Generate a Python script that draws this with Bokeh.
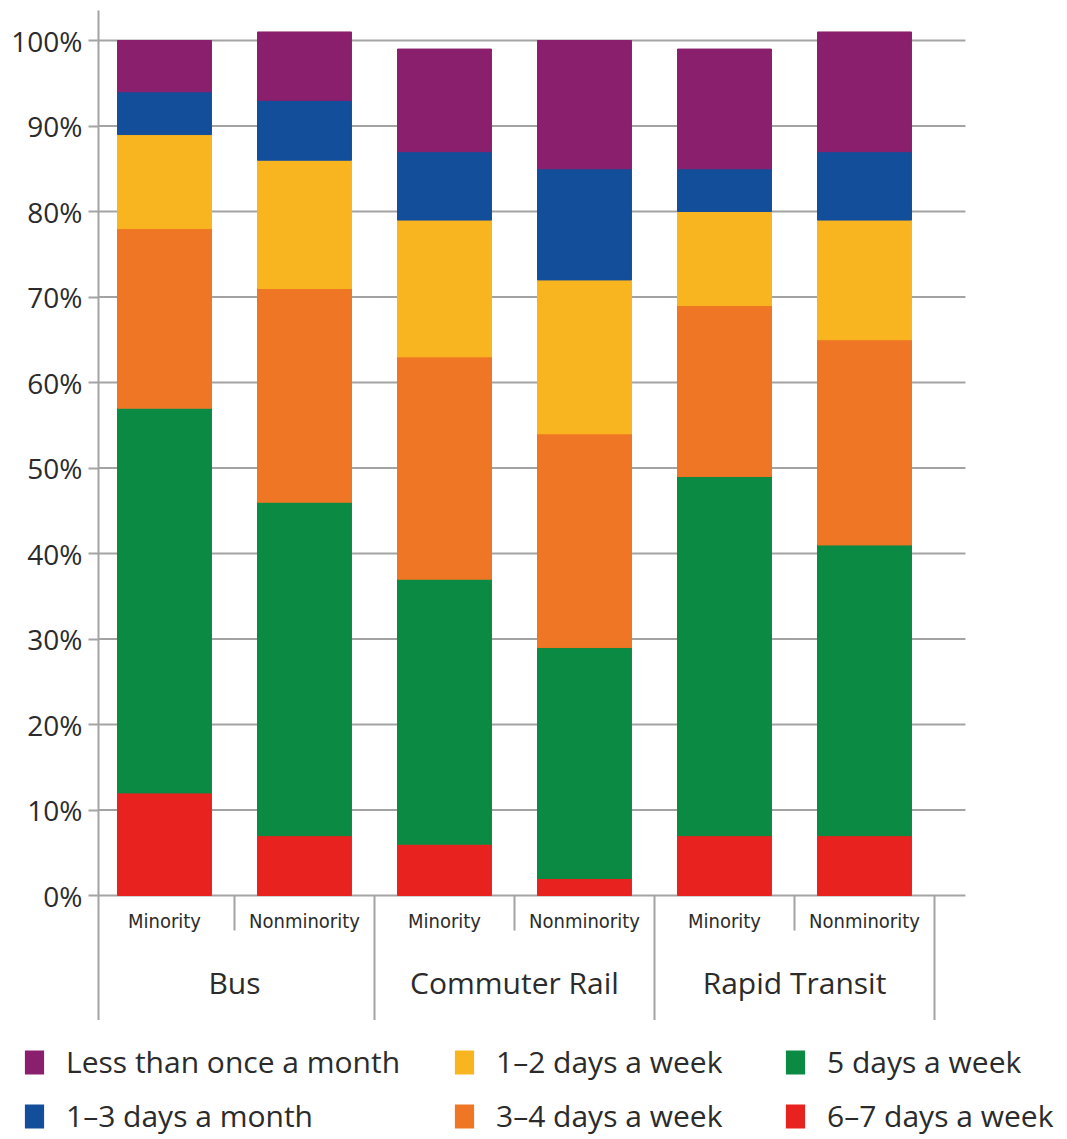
from bokeh.plotting import figure
from bokeh.models import (Range1d, FixedTicker, PrintfTickFormatter, ColumnDataSource,
                          Legend, LegendItem)
from bokeh.layouts import column
from bokeh.core.properties import value
from bokeh.embed import file_html
from bokeh.resources import INLINE

# ---------------- data ----------------
groups = ["Bus", "Bus", "Commuter Rail", "Commuter Rail", "Rapid Transit", "Rapid Transit"]
subgroups = ["Minority", "Nonminority", "Minority", "Nonminority", "Minority", "Nonminority"]

six_seven_week = [12, 7, 6, 2, 7, 7]
five_week = [45, 39, 31, 27, 42, 34]
three_four_week = [21, 25, 26, 25, 20, 24]
one_two_week = [11, 15, 16, 18, 11, 14]
one_three_month = [5, 7, 8, 13, 5, 8]
less_month = [6, 8, 12, 15, 14, 14]

series_labels = ["6–7 days a week", "5 days a week", "3–4 days a week",
                 "1–2 days a week", "1–3 days a month", "Less than once a month"]
series_values = [six_seven_week, five_week, three_four_week,
                 one_two_week, one_three_month, less_month]
series_colors = ["#E8231F", "#0A8A43", "#EE7624", "#F9B51F", "#134E9B", "#8A1F6D"]

y_ticks = [0, 10, 20, 30, 40, 50, 60, 70, 80, 90, 100]

# ---------------- main chart ----------------
GRID = "#a3a3a3"
TXT = "#2b2b2b"

xpos = [i + 0.5 for i in range(len(subgroups))]
keys = ["s%d" % i for i in range(len(series_values))]
data = {"x": xpos}
for k, v in zip(keys, series_values):
    data[k] = v
source = ColumnDataSource(data)

x_start, x_end = 0.0286, 6.95
p = figure(width=1067, height=1020, x_range=Range1d(x_start, x_end),
           y_range=Range1d(-14.62, 103.51), output_backend="svg",
           toolbar_location=None, x_axis_location=None,
           min_border_left=98, min_border_right=0, min_border_top=10, min_border_bottom=0)
p.frame_align = False
p.outline_line_color = None
p.xgrid.visible = False
p.ygrid.visible = False
p.background_fill_color = "white"

ax = p.yaxis[0]
ax.ticker = FixedTicker(ticks=y_ticks)
ax.formatter = PrintfTickFormatter(format="%d%%")
ax.axis_line_color = GRID
ax.axis_line_width = 2
ax.major_tick_line_color = GRID
ax.major_tick_line_width = 2
ax.major_tick_out = 10
ax.major_tick_in = 0
ax.minor_tick_line_color = None
ax.major_label_text_font = "Open Sans"
ax.major_label_text_font_size = "28px"
ax.major_label_text_color = TXT
ax.major_label_standoff = 6

# horizontal gridlines (ending short of the right edge, as in the original)
grid_end = 6.221
p.segment(x0=[x_start] * len(y_ticks), y0=y_ticks, x1=[grid_end] * len(y_ticks), y1=y_ticks,
          line_color=GRID, line_width=2)

p.vbar_stack(keys, x="x", width=0.671, color=series_colors, source=source)

# category separators
n = len(subgroups)
sub_sep = [xpos[i] + 0.5 for i in range(n - 1) if groups[i] == groups[i + 1]]
grp_sep = [xpos[i] + 0.5 for i in range(n) if i == n - 1 or groups[i] != groups[i + 1]]
p.segment(x0=sub_sep, y0=[0] * len(sub_sep), x1=sub_sep, y1=[-4.1] * len(sub_sep),
          line_color=GRID, line_width=2)
p.segment(x0=grp_sep, y0=[0] * len(grp_sep), x1=grp_sep, y1=[-14.62] * len(grp_sep),
          line_color=GRID, line_width=2)

# sub-category labels
p.text(x=xpos, y=[-3.0] * n, text=subgroups, text_font=value("DejaVu Sans Condensed"),
       text_font_size="20px", text_align="center", text_baseline="middle", text_color=TXT)

# group labels
uniq = []
for g in groups:
    if g not in uniq:
        uniq.append(g)
centers = [sum(x for x, g in zip(xpos, groups) if g == u) / groups.count(u) for u in uniq]
p.text(x=centers, y=[-10.2] * len(uniq), text=uniq, text_font=value("Open Sans"),
       text_font_size="30px", text_align="center", text_baseline="middle", text_color=TXT)

# ---------------- legend strip ----------------
p2 = figure(width=1067, height=119, output_backend="svg", toolbar_location=None,
            x_axis_location=None, y_axis_location=None, min_border=0,
            x_range=Range1d(0, 1), y_range=Range1d(0, 1))
p2.frame_align = False
p2.outline_line_color = None
p2.xgrid.visible = False
p2.ygrid.visible = False

# zero-size proxy glyphs used only to draw the legend swatches
rend = {}
for lab, col in zip(series_labels, series_colors):
    rend[lab] = p2.vbar(x=[0], top=[0], bottom=[0], width=0, fill_color=col, line_color=None)

legend_cols = [["Less than once a month", "1–3 days a month"],
               ["1–2 days a week", "3–4 days a week"],
               ["5 days a week", "6–7 days a week"]]
legend_x = [22, 452, 783]
for labs, lx in zip(legend_cols, legend_x):
    leg = Legend(items=[LegendItem(label=l, renderers=[rend[l]]) for l in labs],
                 location=(lx, 3), orientation="vertical",
                 glyph_width=24, glyph_height=30, label_standoff=20,
                 label_text_font="Open Sans", label_text_font_size="30px",
                 label_text_color=TXT, label_height=41, spacing=13,
                 padding=0, margin=0, border_line_color=None,
                 background_fill_alpha=0)
    p2.add_layout(leg)

layout = column(p, p2)
open("out.html", "w").write(file_html(layout, INLINE))
